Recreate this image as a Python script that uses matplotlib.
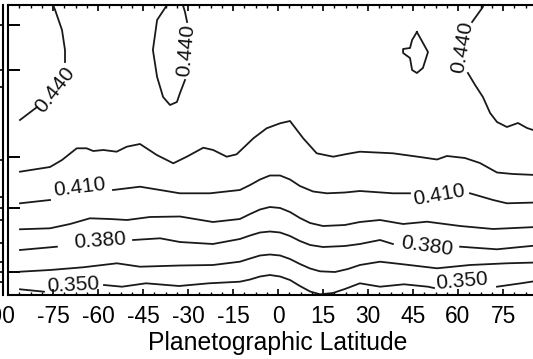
import numpy as np
import matplotlib
matplotlib.use("Agg")
import matplotlib.pyplot as plt
from matplotlib.ticker import MultipleLocator, FixedLocator
from matplotlib.transforms import ScaledTranslation

plt.rcParams['font.family'] = ['Liberation Sans', 'DejaVu Sans']

nan = np.nan

# Contour levels of the retrieved field (every 0.015), labelled every other level
levels = [0.350, 0.365, 0.380, 0.395, 0.410, 0.425, 0.440]

# Each contour: latitude (deg) and height (axis units); NaN breaks leave room for labels
lat_350 = [-86, -78, nan, -58, -52, -44, -33, -23, -12.7, -9.3, -6, -2.7, 0.7, 4, 7.3, 10.7, 14, 18.3,
           22.3, 27.3, 34, 42, 50, 52, nan, 73, 81, 86]
h_350 = [0.57, 0.33, nan, 1.0, 0.83, 1.17, 0.9, 1.17, 1.33, 1.55, 1.85, 2.0, 1.85, 1.5, 0.9, 0.35, 0.07, 0.2,
         0.6, 1.17, 0.83, 1.07, 0.83, 0.7, nan, 0.83, 1.17, 1.4]

lat_365 = [-86, -76, -65, -53.7, -46, -32.7, -21.7, -12.7, -9.3, -6, -2.7, 0.7, 4, 7.3, 10.7, 14, 19, 23.3,
           27.3, 34, 41.7, 53, 64, 76.3, 86]
h_365 = [2.33, 2.5, 2.77, 3.17, 2.83, 2.95, 3.0, 3.33, 3.65, 3.95, 4.05, 3.95, 3.6, 3.1, 2.65, 2.37, 2.3, 2.6,
         3.0, 3.33, 3.07, 2.67, 3.0, 3.17, 3.25]

lat_380 = [-86, -73.7, nan, -48.3, -39.3, -32.7, -21.7, -12.7, -9.3, -6, -2.7, 0.7, 4, 7.3, 10.7, 15, 22.3,
           27.3, 34, 38.3, nan, 60.7, 73, 86]
h_380 = [4.5, 4.83, nan, 5.5, 5.67, 5.3, 5.1, 5.6, 5.95, 6.25, 6.35, 6.25, 5.9, 5.4, 5.0, 4.8, 4.9,
         5.1, 5.5, 5.1, nan, 4.83, 4.57, 4.95]

lat_395 = [-86, -76, -69.3, -62.7, -56, -50.3, -42.7, -32.7, -21.7, -12.7, -9.3, -6, -2.7, 0.7, 4, 7.3, 10.7,
           15, 22.3, 27.3, 34, 41.7, 49.7, 60.7, 71.7, 86]
h_395 = [6.57, 6.67, 7.1, 7.67, 7.6, 7.5, 7.8, 7.85, 7.3, 7.6, 8.1, 8.55, 8.8, 8.7, 8.3, 7.7, 7.2,
         6.9, 7.0, 7.3, 7.5, 7.1, 7.33, 6.9, 6.6, 6.8]

lat_410 = [-86, -76, nan, -55, -46, -39.3, -32.7, -22.7, -12.7, -9.3, -6, -2.7, 0.7, 4, 7.3, 11.7, 16.3,
           22.3, 27.3, 38.3, 44, nan, 64, 71.7, 76.3, 86]
h_410 = [9.17, 9.5, nan, 10.5, 10.83, 10.5, 10.17, 10.17, 10.5, 11.0, 11.55, 11.95, 11.95, 11.55, 10.9, 10.35,
         10.17, 10.25, 10.4, 10.17, 10.17, nan, 10.17, 9.5, 9.17, 9.25]

lat_425 = [-86, -76, -72, -67.1, -63.8, -61.6, -58.2, -53.8, -50.4, -46, -40.4, -34.9, -30.4, -24.9,
           -21.6, -17.1, -13.8, -8.2, -3.8, 0.7, 4, 8.4, 12.9, 18.4, 22.9, 27.3, 38.3, 47.3, 53, 56.3,
           62.3, 67.3, 73, 78.3, 86]
h_425 = [12.33, 12.8, 13.5, 14.67, 14.67, 14.4, 14.5, 14.33, 14.83, 15.1, 14.0, 13.17, 13.83, 14.73,
         14.5, 13.83, 14.07, 15.67, 16.67, 17.17, 17.4, 15.67, 14.17, 13.83, 14.1, 14.33, 14.17, 13.8,
         13.55, 13.9, 13.7, 13.2, 12.25, 12.1, 12.0]

# 0.440 contour pieces: western limb, southern lobe, northern island, eastern limb
lat_440a = [-86, -80.3, nan, -71, -71, -72, -74.3, -75, -75.2]
h_440a = [17.5, 18.8, nan, 23.3, 24.5, 26.5, 28.5, 29.0, 29.5]

lat_440b = [-37, -37, -40.3, -41.7, -40.3, -38.3, -36, -33.7, -32.7, -31, nan, -30.3, -31, -31.7, -31.7]
h_440b = [29.5, 29.0, 27.5, 24.5, 21.8, 19.8, 19.0, 19.3, 20.17, 21.5, nan, 27.3, 28.3, 29.0, 29.5]

lat_440c = [46.3, 50, 48.3, 46.3, 44.7, 44, 41.7, 41.7, 44, 44.7, 46.3]
h_440c = [26.3, 24.3, 22.7, 22.2, 22.5, 23.7, 24.2, 24.6, 24.7, 25.5, 26.3]

lat_440d = [68.7, 68.3, 64.7, nan, 63.3, 65.7, 68.3, 70.7, 73, 76.3, 80, 83, 85, 86]
h_440d = [29.5, 28.8, 27.3, nan, 22.2, 21.0, 19.8, 18.2, 17.3, 16.8, 17.2, 16.7, 16.5, 16.4]

contours = [
    (lat_350, h_350), (lat_365, h_365), (lat_380, h_380), (lat_395, h_395),
    (lat_410, h_410), (lat_425, h_425),
    (lat_440a, h_440a), (lat_440b, h_440b), (lat_440c, h_440c), (lat_440d, h_440d),
]

# Inline contour labels: level, latitude, height, rotation
label_level = [0.350, 0.350, 0.380, 0.380, 0.410, 0.410, 0.440, 0.440, 0.440]
label_lat = [-68.2, 61.3, -59.3, 49.7, -66.0, 53.7, -74.3, -30.7, 61.3]
label_h = [1.0, 1.35, 5.45, 4.9, 10.8, 10.0, 20.5, 24.5, 24.75]
label_rot = [3, 5, 4, -8, 7, 10, 52, 85, 80]

lat_ticks = np.arange(-90, 91, 15)
lat_ticklabels = [f"{t:d}" for t in lat_ticks[:-1]] + [""]
height_ticks = [27.0, 22.5, 13.8, 8.7, 2.3]
outer_ticks = [27.0, 22.5, 20.8, 13.5, 9.8, 8.7, 7.5, 5.2, 3.3, 2.3, 1.3]

fig = plt.figure(figsize=(5.33, 3.59), dpi=100)
ax = fig.add_axes([8 / 533, 64 / 359, 540 / 533, 290 / 359])

ink = '#1a1a1a'
for lat, h in contours:
    ax.plot(lat, h, color=ink, lw=1.3, solid_joinstyle='round')

for lev, la, hh, rot in zip(label_level, label_lat, label_h, label_rot):
    ax.text(la, hh, f"{lev:.3f}", fontsize=15, color='#111111', rotation=rot,
            rotation_mode='anchor', ha='center', va='center')

ax.set_xlim(-90, 90)
ax.set_ylim(0, 29)

ax.xaxis.set_major_locator(FixedLocator(lat_ticks))
ax.xaxis.set_minor_locator(MultipleLocator(3.75))
ax.set_xticklabels(lat_ticklabels)
ax.yaxis.set_major_locator(FixedLocator(height_ticks))
ax.set_yticklabels([])

ax.tick_params(axis='x', which='major', direction='in', top=True, bottom=True,
               length=4.5, width=1.2, labelsize=16.4, pad=7.5, colors='black')
ax.tick_params(axis='x', which='minor', direction='in', top=True, bottom=True,
               length=2.2, width=1.0)
ax.tick_params(axis='y', which='major', direction='in', left=True, right=False,
               length=8.6, width=1.4)
for sp in ax.spines.values():
    sp.set_linewidth(1.5)

ax.set_xlabel("Planetographic Latitude", fontsize=17.8, labelpad=2)

# Secondary height scale just outside the left frame
ax2 = ax.twinx()
ax2.set_ylim(ax.get_ylim())
ax2.yaxis.set_ticks_position('left')
ax2.spines['left'].set_position(('outward', 3.6))
ax2.spines['left'].set_linewidth(1.5)
for side in ('right', 'top', 'bottom'):
    ax2.spines[side].set_visible(False)
ax2.yaxis.set_major_locator(FixedLocator(outer_ticks))
ax2.set_yticklabels([])
ax2.tick_params(axis='y', direction='out', length=6, width=1.2)

# Nudge the -90 label left, as it sits under the frame corner
first = ax.xaxis.get_major_ticks()[0].label1
first.set_transform(first.get_transform() + ScaledTranslation(-10 / 100, 0, fig.dpi_scale_trans))

fig.savefig("out.png", dpi=100)
